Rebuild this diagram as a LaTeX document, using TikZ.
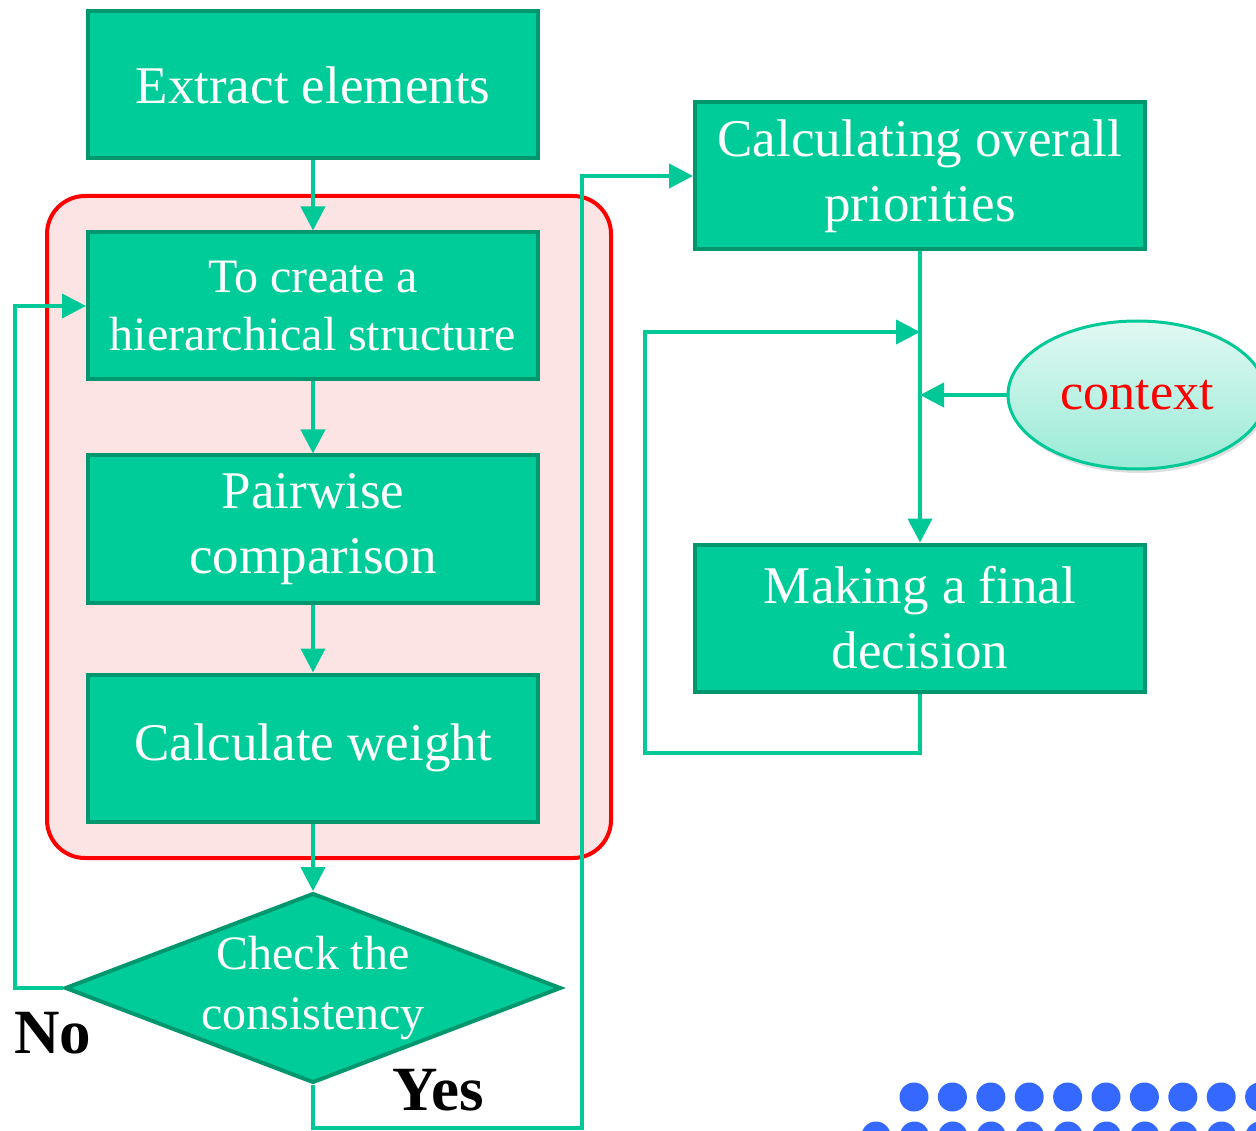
\documentclass[tikz,border=0pt]{standalone}
\usepackage{fontspec}
\setmainfont{Liberation Serif}
\usepackage{tikz}
\usetikzlibrary{shapes.geometric, positioning, arrows.meta, calc, shadows}

\definecolor{boxfill}{RGB}{0,204,153}
\definecolor{boxline}{RGB}{0,150,110}
\definecolor{flowcol}{RGB}{0,200,150}
\definecolor{grouppink}{RGB}{253,228,228}
\definecolor{dotblue}{RGB}{52,104,255}

\begin{document}
\begin{tikzpicture}[
        x=1pt, y=-1pt,
        % Style for the process boxes
        procbox/.style={
            draw=boxline,
            fill=boxfill,
            line width=4pt,
            minimum width=450pt,
            minimum height=147pt,
            inner sep=0pt,
            text=white,
            align=center,
            font=\fontsize{53}{65}\selectfont
        },
        % Style for the decision diamond
        checkbox/.style={
            diamond,
            draw=boxline,
            fill=boxfill,
            line width=4pt,
            minimum width=496pt,
            minimum height=186pt,
            aspect=2.6,
            inner sep=0pt,
            text=white,
            align=center,
            font=\fontsize{48}{60}\selectfont
        },
        % Style for the connectors
        flow/.style={
            draw=flowcol,
            line width=4pt,
            -{Triangle[length=24pt, width=24pt]}
        },
        % Style for the Yes / No labels
        answer/.style={
            font=\fontsize{63}{63}\selectfont\bfseries
        }
    ]

    \useasboundingbox (0,0) rectangle (1256,1131);

    % ==========================================
    % GROUP FRAME
    % ==========================================
    \draw[red, fill=grouppink, line width=4pt, rounded corners=38pt]
        (47,196) rectangle (611,858);

    % ==========================================
    % LEFT COLUMN
    % ==========================================
    \node[procbox] (extract) at (313,85) {Extract elements};
    \node[procbox, font=\fontsize{48}{58}\selectfont] (hier) at (313,306)
        {To create a\\hierarchical structure};
    \node[procbox] (pairwise) at (313,529) {Pairwise\\comparison};
    \node[procbox] (weight) at (313,748) {Calculate weight};
    \node[checkbox] (check) at (313,988) {Check the\\consistency};

    % ==========================================
    % RIGHT COLUMN
    % ==========================================
    \node[procbox] (overall) at (920,176) {Calculating overall\\priorities};
    \node[procbox] (decision) at (920,618) {Making a final\\decision};
    \node[ellipse, draw=flowcol, line width=3pt, top color=boxfill!12,
          bottom color=boxfill!40, minimum width=258pt, minimum height=148pt,
          drop shadow={opacity=0.25, shadow xshift=2pt, shadow yshift=-4pt},
          text=red, font=\fontsize{52}{60}\selectfont] (context) at (1137,395) {context};

    % Bend points of the loops
    \coordinate (noL) at (15,600);
    \coordinate (yesB) at (582,1128);
    \coordinate (loopB) at (645,753);
    \coordinate (merge) at (920,332);

    % ==========================================
    % CONNECTORS
    % ==========================================
    \draw[flow] (extract) -- (hier);
    \draw[flow] (hier) -- (pairwise);
    \draw[flow] (pairwise) -- (weight);
    \draw[flow] (weight) -- (check);
    \draw[flow] (check.west) -| (noL) |- (hier.west);
    \draw[flow] (check.south) |- (yesB) |- (overall.west);
    \draw[flow] (overall) -- (decision);
    \draw[flow] (decision.south) |- (loopB) |- (merge);
    \draw[flow] (context.west) -- (context.west -| overall.south);

    % Answer labels
    \node[answer] (no) at (53,1033) {No};
    \node[answer] (yes) at (438,1090) {Yes};

    % ==========================================
    % DOT PATTERN
    % ==========================================
    \foreach \i in {0,...,9} {
        \fill[dotblue] (914+38.4*\i,1097) circle (14.5pt);
    }
    \foreach \i in {0,...,10} {
        \fill[dotblue] (876+38.4*\i,1136) circle (14.5pt);
    }

\end{tikzpicture}
\end{document}
